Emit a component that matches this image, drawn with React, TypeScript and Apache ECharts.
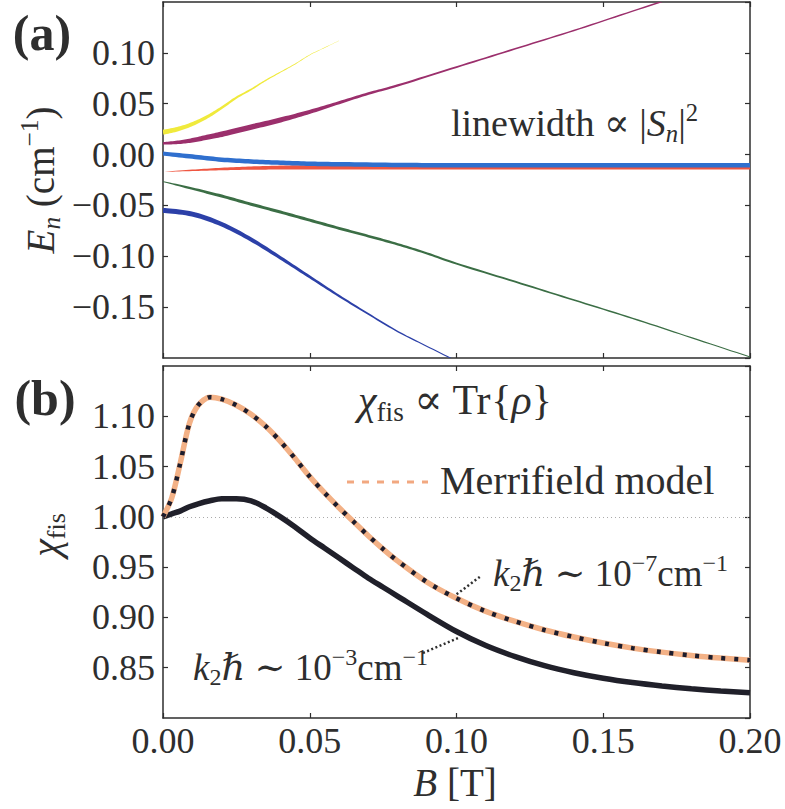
import React, { useEffect, useRef } from "react";
import * as echarts from "echarts";

// ---------------- Panel (a): energy levels E_n (cm^-1) vs B (T) ----------------
// linewidth ∝ |S_n|^2 (W arrays, in px)
const B_YELLOW = [0, 0.005, 0.01, 0.015, 0.02, 0.025, 0.03, 0.035, 0.04, 0.045, 0.05, 0.055, 0.06];
const E_YELLOW = [0.022, 0.025, 0.030, 0.037, 0.046, 0.056, 0.064, 0.073, 0.081, 0.089, 0.098, 0.105, 0.112];
const W_YELLOW = [5, 4.5, 3.8, 3.2, 2.6, 2.1, 1.7, 1.3, 1.0, 0.8, 0.6, 0.4, 0.2];

const B_PURPLE = [0, 0.005, 0.01, 0.015, 0.02, 0.03, 0.04, 0.05, 0.06, 0.07, 0.08, 0.10, 0.12, 0.14, 0.16, 0.18];
const E_PURPLE = [0.011, 0.012, 0.014, 0.017, 0.020, 0.027, 0.034, 0.042, 0.051, 0.060, 0.068, 0.086, 0.104, 0.122, 0.141, 0.160];
const W_PURPLE = [2.5, 3.5, 4.5, 5, 5.5, 5.5, 5, 4, 3, 2.5, 2.2, 1.8, 1.6, 1.5, 1.4, 1.3];

const B_RED = [0, 0.01, 0.02, 0.03, 0.04, 0.05, 0.06, 0.08, 0.10, 0.15, 0.20];
const E_RED = [-0.017, -0.0155, -0.0142, -0.0133, -0.0128, -0.0125, -0.0124, -0.0124, -0.0124, -0.0125, -0.0125];
const W_RED = [0, 1.5, 2.5, 3.3, 4, 4.5, 4.5, 4.5, 4.5, 4.5, 4.5];

const B_BLUE = [0, 0.01, 0.02, 0.03, 0.04, 0.05, 0.06, 0.08, 0.10, 0.15, 0.20];
const E_BLUE = [0.001, -0.002, -0.005, -0.0068, -0.008, -0.009, -0.0095, -0.0102, -0.0105, -0.0106, -0.0106];
const W_BLUE = [4, 4.5, 4.5, 4.5, 4.5, 4.5, 4.5, 4.5, 4.5, 4.5, 4.5];

const B_GREEN = [0, 0.01, 0.02, 0.03, 0.04, 0.05, 0.06, 0.07, 0.08, 0.09, 0.10, 0.12, 0.14, 0.16, 0.18, 0.20];
const E_GREEN = [-0.0265, -0.0335, -0.0408, -0.0488, -0.0565, -0.0645, -0.0725, -0.0802, -0.0882, -0.0972, -0.1072, -0.125, -0.143, -0.161, -0.180, -0.199];
const W_GREEN = [0.8, 2.5, 3, 3, 3, 3, 2.8, 2.6, 2.4, 2.2, 2, 1.8, 1.6, 1.4, 1.2, 1.0];

const B_NAVY = [0, 0.01, 0.02, 0.03, 0.04, 0.05, 0.06, 0.07, 0.08, 0.09, 0.10];
const E_NAVY = [-0.0549, -0.0585, -0.0685, -0.0835, -0.1015, -0.1203, -0.1390, -0.1568, -0.1740, -0.1886, -0.2030];
const W_NAVY = [5, 5, 4.5, 4, 3.3, 2.7, 2.2, 1.8, 1.4, 1.1, 1.0];

// ---------------- Panel (b): chi_fis vs B ----------------
const B_CHI = [0, 0.003, 0.006, 0.009, 0.012, 0.016, 0.02, 0.025, 0.03, 0.035, 0.04, 0.045, 0.05, 0.055, 0.06, 0.065, 0.07, 0.075, 0.08, 0.09, 0.10, 0.11, 0.12, 0.13, 0.14, 0.15, 0.16, 0.17, 0.18, 0.19, 0.20];
const CHI_MERRIFIELD = [1.000, 1.019, 1.055, 1.093, 1.111, 1.119, 1.117, 1.111, 1.102, 1.090, 1.075, 1.058, 1.040, 1.024, 1.009, 0.995, 0.981, 0.968, 0.956, 0.935, 0.919, 0.906, 0.896, 0.8875, 0.8805, 0.8745, 0.8695, 0.8655, 0.8622, 0.8596, 0.8575];
const CHI_K7 = [1.000, 1.019, 1.055, 1.093, 1.111, 1.119, 1.117, 1.111, 1.102, 1.090, 1.075, 1.058, 1.040, 1.024, 1.009, 0.995, 0.981, 0.968, 0.956, 0.935, 0.919, 0.906, 0.896, 0.8875, 0.8805, 0.8745, 0.8695, 0.8655, 0.8622, 0.8596, 0.8575];
const CHI_K3 = [1.000, 1.003, 1.006, 1.010, 1.013, 1.016, 1.018, 1.018, 1.016, 1.009, 1.000, 0.990, 0.979, 0.969, 0.959, 0.949, 0.939, 0.930, 0.921, 0.903, 0.886, 0.872, 0.861, 0.852, 0.845, 0.8395, 0.8352, 0.8318, 0.829, 0.8268, 0.825];

const X_RANGE = [0, 0.2];
const Y_RANGE_A = [-0.2, 0.15];
const Y_RANGE_B = [0.8, 1.15];
const TICK_STEP = 0.05;

const FONT = "'Liberation Serif','DejaVu Serif',serif";
const INK = "#2e2e2e";

function fmt(v: number): string {
  if (Math.abs(v) < 1e-9) return "0.00";
  const s = Math.abs(v).toFixed(2);
  return v < 0 ? "\u2212" + s : s;
}

function bandPolygon(api: any, Bs: number[], Es: number[], Ws: number[]) {
  const pts = Bs.map((b, i) => api.coord([b, Es[i]]));
  const n = pts.length;
  const dense: number[][] = [];
  const dw: number[] = [];
  const steps = 10;
  for (let i = 0; i < n - 1; i++) {
    const p0 = pts[Math.max(0, i - 1)], p1 = pts[i], p2 = pts[i + 1], p3 = pts[Math.min(n - 1, i + 2)];
    for (let s = 0; s < steps; s++) {
      const t = s / steps, t2 = t * t, t3 = t2 * t;
      const c = (k: number) =>
        0.5 * (2 * p1[k] + (-p0[k] + p2[k]) * t + (2 * p0[k] - 5 * p1[k] + 4 * p2[k] - p3[k]) * t2 + (-p0[k] + 3 * p1[k] - 3 * p2[k] + p3[k]) * t3);
      dense.push([c(0), c(1)]);
      dw.push(Ws[i] + (Ws[i + 1] - Ws[i]) * t);
    }
  }
  dense.push(pts[n - 1]);
  dw.push(Ws[n - 1]);
  const up: number[][] = [], lo: number[][] = [];
  for (let i = 0; i < dense.length; i++) {
    const a = dense[Math.max(0, i - 1)], b = dense[Math.min(dense.length - 1, i + 1)];
    let tx = b[0] - a[0], ty = b[1] - a[1];
    const L = Math.hypot(tx, ty) || 1;
    tx /= L; ty /= L;
    const h = dw[i] / 2;
    up.push([dense[i][0] - ty * h, dense[i][1] + tx * h]);
    lo.push([dense[i][0] + ty * h, dense[i][1] - tx * h]);
  }
  return up.concat(lo.reverse());
}

function band(name: string, Bs: number[], Es: number[], Ws: number[], color: string, z: number) {
  return {
    name,
    type: "custom",
    xAxisIndex: 0,
    yAxisIndex: 0,
    clip: true,
    z,
    silent: true,
    data: Bs.map((b, i) => [b, Es[i], Ws[i]]),
    encode: { x: 0, y: 1 },
    renderItem: (params: any, api: any) => {
      if (params.dataIndex !== 0) return null;
      return {
        type: "polygon",
        shape: { points: bandPolygon(api, Bs, Es, Ws) },
        style: { fill: color, stroke: null },
      };
    },
  };
}

const axisLine = { lineStyle: { color: INK, width: 1.5 } };
const axisTick = { inside: true, length: 5, lineStyle: { color: INK, width: 1.2 } };

function xAxis(grid: number, position: string, labels: boolean) {
  return {
    type: "value",
    gridIndex: grid,
    position,
    min: X_RANGE[0],
    max: X_RANGE[1],
    interval: TICK_STEP,
    axisLine: { show: true, onZero: false, ...axisLine },
    axisTick,
    splitLine: { show: false },
    axisLabel: {
      show: labels,
      formatter: fmt,
      fontFamily: FONT,
      fontSize: 36,
      color: INK,
      margin: 5,
    },
  };
}

function yAxis(grid: number, position: string, labels: boolean, range: number[]) {
  return {
    type: "value",
    gridIndex: grid,
    position,
    min: range[0],
    max: range[1],
    interval: TICK_STEP,
    axisLine: { show: true, onZero: false, ...axisLine },
    axisTick,
    splitLine: { show: false },
    axisLabel: {
      show: labels,
      formatter: fmt,
      fontFamily: FONT,
      fontSize: 36,
      color: INK,
      margin: 8,
      showMinLabel: false,
      showMaxLabel: false,
    },
  };
}

const RICH = (size: number) => ({
  r: { fontFamily: FONT, fontSize: size, fill: INK, lineHeight: size * 1.2, verticalAlign: "middle" },
  i: { fontFamily: FONT, fontSize: size, fontStyle: "italic", fill: INK, lineHeight: size * 1.2, verticalAlign: "middle" },
  sub: { fontFamily: FONT, fontSize: size * 0.65, fill: INK, lineHeight: size * 0.65, verticalAlign: "bottom" },
  isub: { fontFamily: FONT, fontSize: size * 0.65, fontStyle: "italic", fill: INK, lineHeight: size * 0.65, verticalAlign: "bottom" },
  sup: { fontFamily: FONT, fontSize: size * 0.65, fill: INK, lineHeight: size * 0.65, verticalAlign: "top" },
});

function richText(text: string, x: number, y: number, size: number, align = "left", rotation = 0) {
  return {
    type: "text",
    x,
    y,
    rotation,
    silent: true,
    style: {
      text,
      rich: RICH(size),
      fontFamily: FONT,
      fontSize: size,
      fill: INK,
      align,
      verticalAlign: "middle",
    },
  };
}

export default function App() {
  const ref = useRef<HTMLDivElement>(null);
  useEffect(() => {
    if (!ref.current) return;
    const chart = echarts.init(ref.current, undefined, { renderer: "svg" });
    const option: any = {
      animation: false,
      backgroundColor: "#fff",
      textStyle: { fontFamily: FONT },
      grid: [
        { left: 163, top: 2, width: 587, height: 356 },
        { left: 163, top: 366, width: 587, height: 352 },
      ],
      xAxis: [xAxis(0, "bottom", false), xAxis(0, "top", false), xAxis(1, "bottom", true), xAxis(1, "top", false)],
      yAxis: [
        yAxis(0, "left", true, Y_RANGE_A),
        yAxis(0, "right", false, Y_RANGE_A),
        yAxis(1, "left", true, Y_RANGE_B),
        yAxis(1, "right", false, Y_RANGE_B),
      ],
      series: [
        band("level 1", B_YELLOW, E_YELLOW, W_YELLOW, "#f0ea3c", 2),
        band("level 2", B_PURPLE, E_PURPLE, W_PURPLE, "#9b2f6c", 2),
        band("level 4", B_RED, E_RED, W_RED, "#ef5641", 2),
        band("level 3", B_BLUE, E_BLUE, W_BLUE, "#2f6fce", 3),
        band("level 5", B_GREEN, E_GREEN, W_GREEN, "#3b6e45", 2),
        band("level 6", B_NAVY, E_NAVY, W_NAVY, "#2c40a8", 2),
        {
          name: "k2ħ ~ 1e-3",
          type: "line",
          xAxisIndex: 2,
          yAxisIndex: 2,
          data: B_CHI.map((b, i) => [b, CHI_K3[i]]),
          showSymbol: false,
          symbol: "none",
          smooth: 0.3,
          z: 3,
          lineStyle: { color: "#20202a", width: 5.5 },
          markLine: {
            silent: true,
            symbol: "none",
            label: { show: false },
            lineStyle: { color: "#aaa", width: 1, type: [1, 3] },
            data: [{ yAxis: 1.0 }],
            z: 1,
          },
        },
        {
          name: "Merrifield model",
          type: "line",
          xAxisIndex: 2,
          yAxisIndex: 2,
          data: B_CHI.map((b, i) => [b, CHI_MERRIFIELD[i]]),
          showSymbol: false,
          symbol: "none",
          smooth: 0.3,
          z: 4,
          lineStyle: { color: "#f3b186", width: 5.5 },
        },
        {
          name: "k2ħ ~ 1e-7",
          type: "line",
          xAxisIndex: 2,
          yAxisIndex: 2,
          data: B_CHI.map((b, i) => [b, CHI_K7[i]]),
          showSymbol: false,
          symbol: "none",
          smooth: 0.3,
          z: 5,
          lineStyle: { color: "#1c1c2c", width: 4.5, type: [4, 9], cap: "butt" },
        },
      ],
      graphic: [
        { type: "text", x: 42, y: 33, silent: true, style: { text: "(a)", fontFamily: FONT, fontSize: 50, fontWeight: "bold", fill: INK, align: "center", verticalAlign: "middle" } },
        { type: "text", x: 45, y: 398, silent: true, style: { text: "(b)", fontFamily: FONT, fontSize: 50, fontWeight: "bold", fill: INK, align: "center", verticalAlign: "middle" } },
        richText("{i|E}{isub|n}{r| (cm}{sup|\u22121}{r|)}", 40, 180, 39, "center", Math.PI / 2),
        richText("{i|\u03c7}{sub|fis}", 45, 535, 40, "center", Math.PI / 2),
        richText("{i|B}{r| [T]}", 455, 782, 39, "center"),
        richText("{r|linewidth \u221d |}{i|S}{isub|n}{r||}{sup|2}", 451, 123, 38, "left"),
        richText("{i|\u03c7}{sub|fis}{r| \u221d Tr}{r|\u007b}{i|\u03c1}{r|\u007d}", 358, 400, 42, "left"),
        richText("{r|Merrifield model}", 440, 480, 40, "left"),
        richText("{i|k}{sub|2}{i|\u210f}{r| \u223c 10}{sup|\u22127}{r|cm}{sup|\u22121}", 493, 573, 37, "left"),
        richText("{i|k}{sub|2}{i|\u210f}{r| \u223c 10}{sup|\u22123}{r|cm}{sup|\u22121}", 193, 667, 37, "left"),
        { type: "line", silent: true, shape: { x1: 347, y1: 482, x2: 428, y2: 482 }, style: { stroke: "#f2a880", lineWidth: 3, lineDash: [7, 8] } },
        { type: "line", silent: true, shape: { x1: 453, y1: 597, x2: 481, y2: 576 }, style: { stroke: INK, lineWidth: 2.5, lineDash: [2, 2.5] } },
        { type: "line", silent: true, shape: { x1: 423, y1: 653, x2: 458, y2: 638 }, style: { stroke: INK, lineWidth: 2.5, lineDash: [2, 2.5] } },
      ],
    };
    chart.setOption(option);
    return () => chart.dispose();
  }, []);
  return <div ref={ref} style={{ position: "absolute", left: 0, top: 0, width: 785, height: 809 }} />;
}
